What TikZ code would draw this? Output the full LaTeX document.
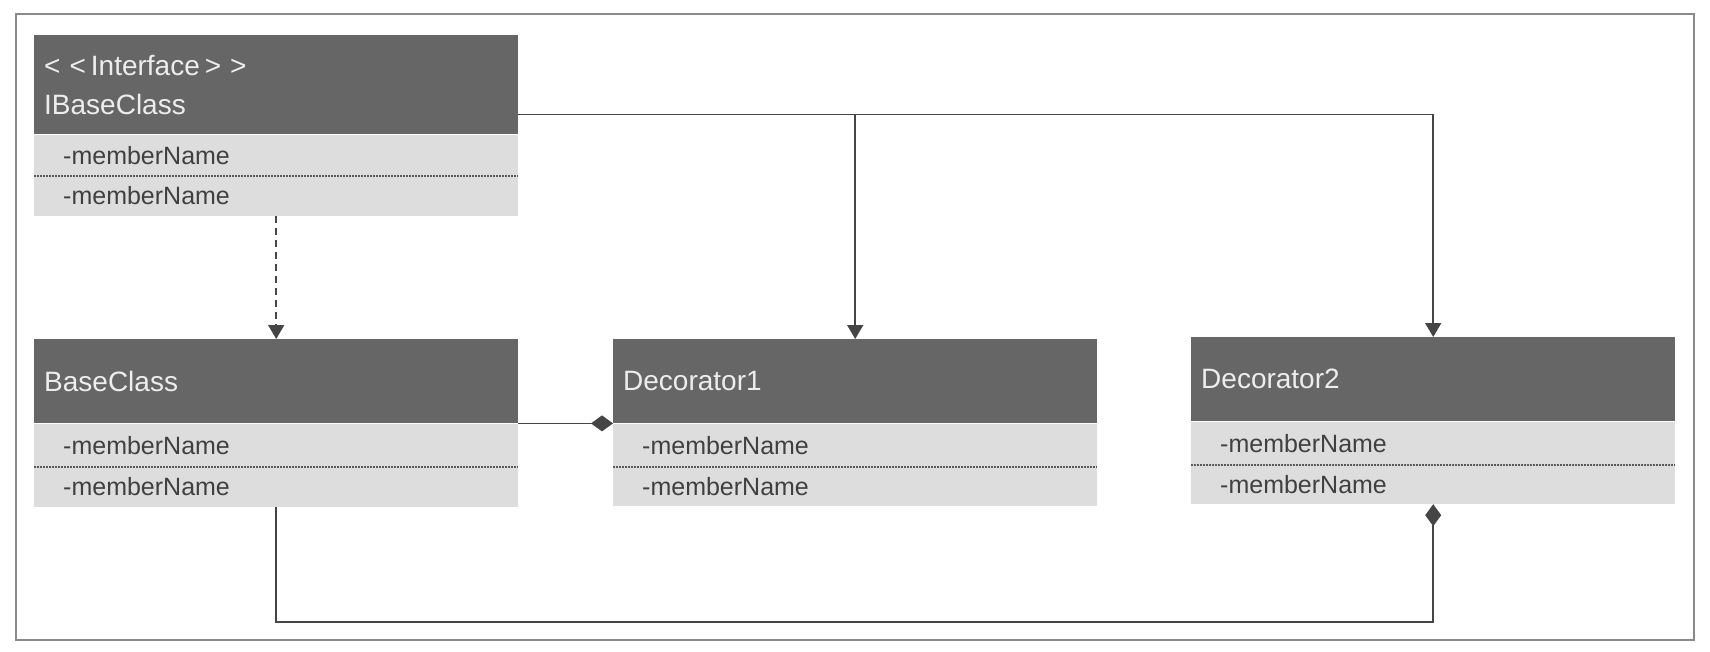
\documentclass[tikz,border=0pt]{standalone}
\usepackage{fontspec}
\setmainfont{Liberation Sans}
\usetikzlibrary{arrows.meta}
\definecolor{headgray}{HTML}{666666}
\definecolor{rowgray}{HTML}{DDDDDD}
\definecolor{linegray}{HTML}{454545}
\definecolor{framegray}{HTML}{8A8A8A}
\newcommand{\headfont}{\fontsize{28}{39}\selectfont}
\newcommand{\rowfont}{\fontsize{25}{30}\selectfont}

\begin{document}
\begin{tikzpicture}[x=1pt,y=-1pt,
	head/.style={fill=headgray,text=white!93!black,font=\headfont,anchor=north west,
		inner xsep=10pt,text width=464pt,align=left,minimum height=84pt},
	row/.style={fill=rowgray,text=black!75,font=\rowfont,anchor=north west,
		inner xsep=29pt,text width=426pt,align=left,minimum height=43pt},
	sep/.style={black!65,line width=1.5pt,dash pattern=on 2pt off 1pt},
	link/.style={linegray,line width=1.6pt},
	tip/.style={-{Triangle[width=16pt,length=14pt]}},
	owns/.style={-{Diamond[width=16pt,length=22pt]}}]
	\useasboundingbox (0,0) rectangle (1710,652);
	\draw[framegray,line width=1.6pt] (16,14) rectangle (1694,640);

	% interface
	\node[head,minimum height=99pt] (ibase) at (34,35) {<\kern9pt<\kern5ptInterface\kern5pt>\kern9pt>\\IBaseClass};
	\node[row,minimum height=41pt] (ibasem1) at (ibase.south west) {-memberName};
	\node[row,minimum height=40pt] (ibasem2) at (ibasem1.south west) {-memberName};
	\draw[sep] (ibasem2.north west) -- (ibasem2.north east);

	% base class
	\node[head] (base) at (34,339) {BaseClass};
	\node[row] (basem1) at (base.south west) {-memberName};
	\node[row,minimum height=40pt] (basem2) at (basem1.south west) {-memberName};
	\draw[sep] (basem2.north west) -- (basem2.north east);

	% decorators
	\node[head] (dec1) at (613,339) {Decorator1};
	\node[row] (dec1m1) at (dec1.south west) {-memberName};
	\node[row,minimum height=39pt] (dec1m2) at (dec1m1.south west) {-memberName};
	\draw[sep] (dec1m2.north west) -- (dec1m2.north east);

	\node[head] (dec2) at (1191,337) {Decorator2};
	\node[row] (dec2m1) at (dec2.south west) {-memberName};
	\node[row,minimum height=39pt] (dec2m2) at (dec2m1.south west) {-memberName};
	\draw[sep] (dec2m2.north west) -- (dec2m2.north east);

	% links
	\draw[link,tip,dash pattern=on 7pt off 5pt] (ibasem2.south) -- (base.north);
	\draw[link,tip] ([yshift=20pt]ibase.south east) -| (dec1.north);
	\draw[link,tip] ([yshift=20pt]ibase.south east) -| (dec2.north);
	\draw[link,owns] (base.south east) -- (dec1.south west);
	\draw[link,owns] (basem2.south) -- ++(0,115) -| (dec2m2.south);
\end{tikzpicture}
\end{document}
